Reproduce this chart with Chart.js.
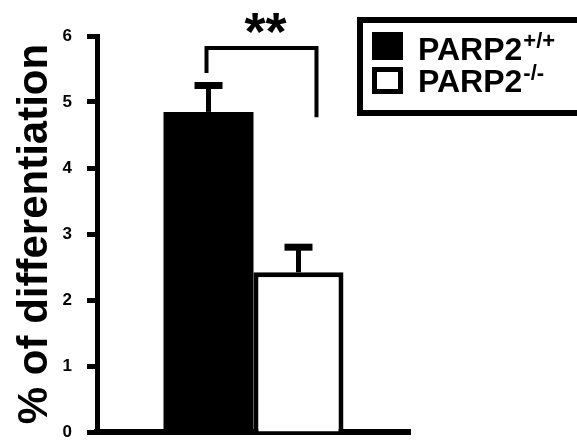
<!DOCTYPE html>
<html>
<head>
<meta charset="utf-8">
<script src="https://cdn.jsdelivr.net/npm/chart.js@4/dist/chart.umd.min.js"></script>
<style>
  html, body { margin: 0; padding: 0; background: #ffffff; }
  #wrap { width: 577px; height: 442px; position: relative; }
</style>
</head>
<body>
<div id="wrap"><canvas id="chart"></canvas></div>
<script>
// Genotype groups (legend text is drawn as base name + superscript)
const groupBase = 'PARP2';
const groupSup = ['+/+', '-/-'];
const groupLabels = groupSup.map(s => groupBase + s);

// Mean % of differentiation and upper error (SEM) per genotype
const meanValues = [4.85, 2.42];
const errorValues = [0.4, 0.38];

// Y axis ticks
const yTicks = [0, 1, 2, 3, 4, 5, 6];

// Significance bracket (in data units) and its mark
const bracketTop = 5.82;
const bracketLegEnds = [5.44, 4.77];
const starLevel = 6.2;
const significance = '**';

const FONT = "'Liberation Sans', Arial, Helvetica, sans-serif";
const fillColors = ['#000000', '#ffffff'];

// Upward-only error bars with caps
const errorBarPlugin = {
  id: 'errorBars',
  afterDatasetsDraw(chart) {
    const ctx = chart.ctx;
    const y = chart.scales.y;
    ctx.save();
    ctx.strokeStyle = '#000';
    chart.data.datasets.forEach((ds, i) => {
      const bar = chart.getDatasetMeta(i).data[0];
      const top = y.getPixelForValue(meanValues[i]);
      const cap = y.getPixelForValue(meanValues[i] + errorValues[i]);
      ctx.lineWidth = 5;
      ctx.beginPath();
      ctx.moveTo(bar.x, top);
      ctx.lineTo(bar.x, cap);
      ctx.stroke();
      ctx.lineWidth = 7;
      ctx.beginPath();
      ctx.moveTo(bar.x - 14, cap);
      ctx.lineTo(bar.x + 14, cap);
      ctx.stroke();
    });
    ctx.restore();
  }
};

// Significance bracket between the two genotypes
const bracketPlugin = {
  id: 'bracket',
  afterDatasetsDraw(chart) {
    const ctx = chart.ctx;
    const y = chart.scales.y;
    const b0 = chart.getDatasetMeta(0).data[0];
    const b1 = chart.getDatasetMeta(1).data[0];
    const xL = b0.x - 2;
    const xR = b1.x + b1.width * 0.2;
    const yT = y.getPixelForValue(bracketTop);
    ctx.save();
    ctx.strokeStyle = '#000';
    ctx.lineWidth = 4;
    ctx.lineCap = 'butt';
    ctx.beginPath();
    ctx.moveTo(xL, y.getPixelForValue(bracketLegEnds[0]));
    ctx.lineTo(xL, yT);
    ctx.lineTo(xR, yT);
    ctx.lineTo(xR, y.getPixelForValue(bracketLegEnds[1]));
    ctx.stroke();
    ctx.fillStyle = '#000';
    ctx.font = 'bold 54px ' + FONT;
    ctx.textAlign = 'center';
    ctx.textBaseline = 'middle';
    ctx.fillText(significance, (xL + xR) / 2 + 4, y.getPixelForValue(starLevel) + 12);
    ctx.restore();
  }
};

// Boxed legend with superscripted genotype
const legendPlugin = {
  id: 'boxLegend',
  afterDraw(chart) {
    const ctx = chart.ctx;
    ctx.save();
    ctx.strokeStyle = '#000';
    ctx.lineWidth = 6;
    ctx.strokeRect(360, 20, 240, 93);
    const rows = [{ top: 32, base: 60 }, { top: 67, base: 92 }];
    rows.forEach((r, i) => {
      const ds = chart.data.datasets[i];
      if (i === 0) {
        ctx.fillStyle = ds.backgroundColor;
        ctx.fillRect(372, r.top, 31, 28);
      } else {
        ctx.lineWidth = 5;
        ctx.strokeRect(374.5, r.top + 2.5, 26, 22);
      }
      ctx.fillStyle = '#000';
      ctx.textBaseline = 'alphabetic';
      ctx.textAlign = 'left';
      ctx.font = 'bold 32px ' + FONT;
      ctx.fillText(groupBase, 418, r.base);
      const w = ctx.measureText(groupBase).width;
      ctx.font = 'bold 22px ' + FONT;
      ctx.fillText(groupSup[i], 418 + w + 1, r.base - 12);
    });
    ctx.restore();
  }
};

new Chart(document.getElementById('chart'), {
  type: 'bar',
  data: {
    labels: [''],
    datasets: groupLabels.map((lab, i) => ({
      label: lab,
      data: [meanValues[i]],
      backgroundColor: fillColors[i],
      borderColor: '#000',
      borderWidth: i === 0 ? 0 : 5,
      borderSkipped: 'start',
      categoryPercentage: 0.575,
      barPercentage: 1.0
    }))
  },
  options: {
    responsive: true,
    maintainAspectRatio: false,
    animation: false,
    devicePixelRatio: 1,
    layout: { padding: { top: 36, right: 167, bottom: 0, left: 0 } },
    plugins: { legend: { display: false }, tooltip: { enabled: false } },
    scales: {
      x: {
        z: 1,
        grid: { display: true, drawOnChartArea: false, drawTicks: false },
        border: { display: true, color: '#000', width: 6 },
        ticks: { display: false },
        afterFit(scale) { scale.height = 10; }
      },
      y: {
        min: yTicks[0],
        max: yTicks[yTicks.length - 1],
        afterBuildTicks(scale) { scale.ticks = yTicks.map(v => ({ value: v })); },
        grid: { display: true, drawOnChartArea: false, drawTicks: true, tickLength: 10, tickWidth: 5, tickColor: '#000' },
        border: { display: true, color: '#000', width: 5 },
        ticks: { color: '#000', padding: 15, font: { family: FONT, size: 17, weight: 'bold' } },
        title: {
          display: true,
          text: '% of differentiation',
          color: '#000',
          padding: { top: 10, bottom: 0 },
          font: { family: FONT, size: 42, weight: 'bold', lineHeight: 1.2 }
        },
        afterFit(scale) {
          scale.width = 97;
          scale.paddingTop = 0;
          scale.paddingBottom = 0;
        }
      }
    }
  },
  plugins: [errorBarPlugin, bracketPlugin, legendPlugin]
});
</script>
</body>
</html>
